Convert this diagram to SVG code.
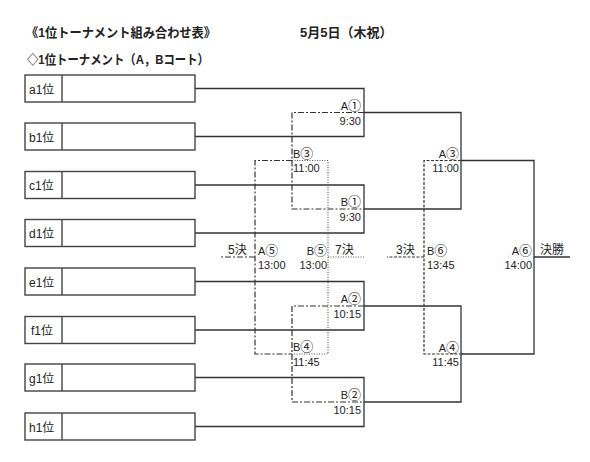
<svg xmlns="http://www.w3.org/2000/svg" width="590" height="462" viewBox="0 0 590 462">
<style>
text{font-family:"Liberation Sans","Noto Sans CJK JP",sans-serif;fill:#222}
.t{font-size:13px;font-weight:bold}
.bx{font-size:12px}
.l{font-size:11px}
.c{font-family:"Noto Sans CJK JP",sans-serif;font-size:13px}
.r{text-anchor:end}
.box rect{fill:#fff;stroke:#444;stroke-width:1.4}
.box line{stroke:#444;stroke-width:1.4}
.s{fill:none;stroke:#333;stroke-width:1.3}
.dd{fill:none;stroke:#333;stroke-width:1.2;stroke-dasharray:6 2 2 2}
.dt{fill:none;stroke:#555;stroke-width:1.1;stroke-dasharray:1 1.5}
.da{fill:none;stroke:#333;stroke-width:1.2;stroke-dasharray:3 1.5}
</style>
<rect width="590" height="462" fill="#fff"/>
<text class="t" x="26" y="37" textLength="190" lengthAdjust="spacingAndGlyphs">《1位トーナメント組み合わせ表》</text>
<text class="t" x="300" y="37">5月5日（木祝）</text>
<text class="t" x="27" y="64" textLength="182" lengthAdjust="spacingAndGlyphs">◇1位トーナメント（A，Bコート）</text>

<g id="connectors">
<path class="s" d="M195 88.5H364V136.5H195M364 112.5H461V209H364M195 185H364V233H195"/>
<path class="s" d="M195 281.5H364V330H195M364 306H461V402H364M195 377.5H364V426.5H195"/>
<path class="s" d="M461 160.5H534V354H461M534 257H570"/>
<path class="dd" d="M364 112.5H292V209H364"/>
<path class="dd" d="M364 306H292V402H364"/>
<path class="dd" d="M292 160.5H255V354H292"/>
<path class="dd" d="M255 257H221"/>
<path class="dt" d="M292 160.5H328V354H292M328 257H365"/>
<path class="da" d="M461 160.5H424V354H461M424 257H387"/>
</g>

<g id="a1" class="box"><rect x="25" y="75" width="170" height="27"/><line x1="62" y1="75" x2="62" y2="102"/><text class="bx" x="29" y="93.5">a1位</text></g>
<g id="b1" class="box"><rect x="25" y="123" width="170" height="27"/><line x1="62" y1="123" x2="62" y2="150"/><text class="bx" x="29" y="141.5">b1位</text></g>
<g id="c1" class="box"><rect x="25" y="171.5" width="170" height="27"/><line x1="62" y1="171.5" x2="62" y2="198.5"/><text class="bx" x="29" y="190">c1位</text></g>
<g id="d1" class="box"><rect x="25" y="219.5" width="170" height="27"/><line x1="62" y1="219.5" x2="62" y2="246.5"/><text class="bx" x="29" y="238">d1位</text></g>
<g id="e1" class="box"><rect x="25" y="268" width="170" height="27"/><line x1="62" y1="268" x2="62" y2="295"/><text class="bx" x="29" y="286.5">e1位</text></g>
<g id="f1" class="box"><rect x="25" y="316.5" width="170" height="27"/><line x1="62" y1="316.5" x2="62" y2="343.5"/><text class="bx" x="31" y="335">f1位</text></g>
<g id="g1" class="box"><rect x="25" y="364" width="170" height="27"/><line x1="62" y1="364" x2="62" y2="391"/><text class="bx" x="29" y="382.5">g1位</text></g>
<g id="h1" class="box"><rect x="25" y="413" width="170" height="27"/><line x1="62" y1="413" x2="62" y2="440"/><text class="bx" x="29" y="431.5">h1位</text></g>

<g id="mA1"><text class="l r" x="361" y="110">A<tspan class="c">①</tspan></text><text class="l r" x="361" y="125">9:30</text></g>
<g id="mB1"><text class="l r" x="361" y="206">B<tspan class="c">①</tspan></text><text class="l r" x="361" y="221">9:30</text></g>
<g id="mA2"><text class="l r" x="361" y="303">A<tspan class="c">②</tspan></text><text class="l r" x="361" y="318">10:15</text></g>
<g id="mB2"><text class="l r" x="361" y="399">B<tspan class="c">②</tspan></text><text class="l r" x="361" y="414">10:15</text></g>
<g id="mB3"><text class="l" x="293" y="158">B<tspan class="c">③</tspan></text><text class="l" x="293" y="172">11:00</text></g>
<g id="mB4"><text class="l" x="293" y="351">B<tspan class="c">④</tspan></text><text class="l" x="293" y="366">11:45</text></g>
<g id="mA3"><text class="l r" x="459" y="158">A<tspan class="c">③</tspan></text><text class="l r" x="459" y="172">11:00</text></g>
<g id="mA4"><text class="l r" x="459" y="352">A<tspan class="c">④</tspan></text><text class="l r" x="459" y="366">11:45</text></g>
<g id="mA5"><text class="l" x="258" y="255">A<tspan class="c">⑤</tspan></text><text class="l" x="258" y="269">13:00</text><text class="l" x="228" y="254" style="font-size:12px">5決</text></g>
<g id="mB5"><text class="l r" x="327" y="255">B<tspan class="c">⑤</tspan></text><text class="l r" x="327" y="269">13:00</text><text class="l" x="335" y="254" style="font-size:12px">7決</text></g>
<g id="mB6"><text class="l" x="427" y="255">B<tspan class="c">⑥</tspan></text><text class="l" x="427" y="269">13:45</text><text class="l" x="396" y="254" style="font-size:12px">3決</text></g>
<g id="mA6"><text class="l r" x="532" y="255">A<tspan class="c">⑥</tspan></text><text class="l r" x="532" y="269">14:00</text><text class="l" x="540" y="254" style="font-size:12px">決勝</text></g>
</svg>
